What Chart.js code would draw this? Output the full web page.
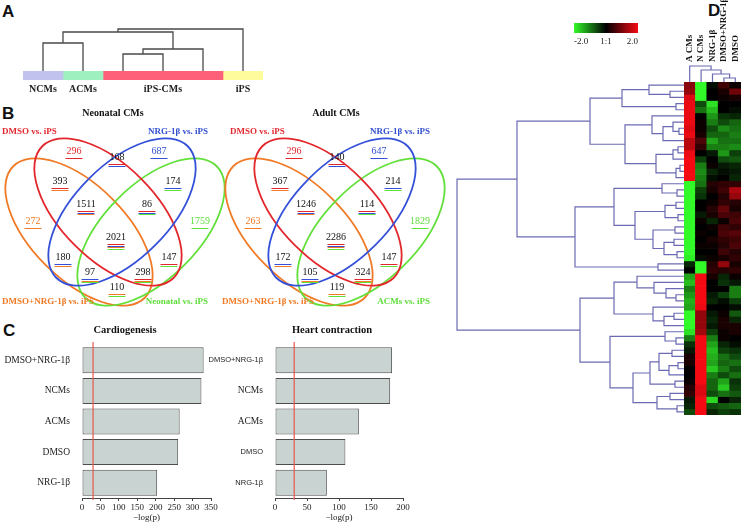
<!DOCTYPE html>
<html>
<head>
<meta charset="utf-8">
<script src="https://cdn.jsdelivr.net/npm/chart.js@4.4.1/dist/chart.umd.min.js"></script>
<style>
html, body { margin: 0; padding: 0; background: #fff; }
#fig { position: relative; width: 741px; height: 527px; overflow: hidden; background: #fff; }
#fig canvas { position: absolute; }
.tag { position: absolute; font: bold 17px "Liberation Sans", Arial, sans-serif; line-height: 1; color: #111; }
</style>
</head>
<body>
<div id="fig">
	<div class="tag" style="left:2px;top:3px">A</div>
	<div class="tag" style="left:2px;top:105px">B</div>
	<div class="tag" style="left:3px;top:322px">C</div>
	<div class="tag" style="left:708px;top:2px">D</div>
</div>
<script>
// ---- panel A: sample clustering
const sampleGroups = ['NCMs', 'ACMs', 'iPS-CMs', 'iPS'];
const groupSizes = [1, 1, 3, 1];
const groupColors = ['#c2c2ef', '#9ef0bf', '#ff6079', '#fdfb9c'];
// [height, left, right], leaves are sample indexes
const sampleTree = [42, [39, [28, 0, 1], [22, [17, 2, 3], 4]], 5];

// ---- panel B: venn counts
const vennKeys = ['R', 'B', 'O', 'G'];
const vennNamesNeonatal = ['DMSO vs. iPS', 'NRG-1β vs. iPS', 'DMSO+NRG-1β vs. iPS', 'Neonatal vs. iPS'];
const vennNamesAdult = ['DMSO vs. iPS', 'NRG-1β vs. iPS', 'DMSO+NRG-1β vs. iPS', 'ACMs vs. iPS'];
const vennRegions = ['R', 'B', 'RB', 'RO', 'BG', 'RBO', 'RBG', 'O', 'G', 'RBOG', 'BO', 'RG', 'BOG', 'ROG', 'OG'];
const neonatalCounts = [296, 687, 168, 393, 174, 1511, 86, 272, 1759, 2021, 180, 147, 97, 298, 110];
const adultCounts = [296, 647, 140, 367, 214, 1246, 114, 263, 1829, 2286, 172, 147, 105, 324, 119];

// ---- panel C: enrichment
const cCategories = ['DMSO+NRG-1β', 'NCMs', 'ACMs', 'DMSO', 'NRG-1β'];
const cardiogenesis = [330, 324, 265, 261, 204];
const heartContraction = [183, 180, 131, 110, 81];
const pThreshold = 30;

// ---- panel D: heatmap
const heatColumns = ['A CMs', 'N CMs', 'NRG-1β', 'DMSO+NRG-1β', 'DMSO'];
const aCMs = [1.1, 1.2, 1.8, 1.9, 1.9, 1.9, 1.9, 1.8, 1.9, 1.5, 1.5, 1.9, 2, 2, 2, 2,
	-2, -2, -2, -2, -2, -2, -2, -2, -2, -2, -2, -2, -1.9, -0.3, 0,
	-1.3, -1.5, -1.0, -1.2, -1.4, -1.3, -2, -2, -2,
	-1.8, -1.0, -0.4, -0.2, 0.2, 0.2, 0, 0, 0.1, 0.3, 0.4, -0.2, -0.3, -0.6];
const nCMs = [-2, -2, -2, -0.6, -0.9, 0, 0.1, 0.1, 0.2, 0.6, 0.4, 0, -0.5, -1.0, -1.1, -1.0,
	-0.9, -0.5, -0.4, 0, 0, -0.2, 0.1, 0, 0.1, 0, 0.1, 0, -0.1, -2, -2,
	2, 2, 2, 2, 2, 1.9, 1.2, 1.2, 1.2,
	1.3, 2, 2, 2, 2, 2, 2, 2, 2, 1.8, 1.8, 2, 2, 2];
const nrg = [-0.1, 0, 0, -1.8, -1.5, -1.2, -1.0, -0.6, -0.8, -1.3, -1.0, -0.2, 0, 0.1, -0.3, -0.1,
	0.3, 0.2, 0, 0.1, 0.3, 0.2, -0.3, 0.1, 0, 0.2, 0.1, 0, 0.1, 0.3, 0.4,
	0.2, 0, 0, -0.2, -0.3, 0, -0.2, -0.3, -0.2,
	-0.5, -1.0, -1.3, -1.5, -1.4, -1.3, -1.6, -1.0, -0.8, -0.8, -0.6, -1.7, -0.6, -0.3];
const dmsoNrg = [0.5, 0.2, 0.1, 0, 0, -0.4, -0.6, -1.1, -0.8, -0.9, -1.0, -1.2, -0.6, -0.2, -0.1, 0,
	0.4, 0.5, 0.3, 0.4, 0.8, 0.6, 0.1, 0.5, 0.6, 0.4, 0.3, 0.5, 0.2, 1.2, 0.3,
	-0.3, -0.4, 0, -0.5, -0.1, 0, 0.1, 0.2, 0.2,
	0.1, 0.1, -0.3, -0.5, -0.9, -0.8, -1.0, -0.6, -1.3, -1.6, -0.9, 0, -0.7, -0.5];
const dmso = [0.1, 0.9, 0.2, 0, -0.1, -0.3, -0.8, -0.9, -1.0, -0.9, -1.1, -0.5, -0.7, -0.3, -0.2, -0.3,
	0.4, 1.4, 1.2, 0.3, 0.2, 0.5, 0.6, 0.4, 0.7, 0.5, 0.6, 0.3, 0.4, 0.2, 0.4,
	0.1, -0.2, -1.0, -1.0, -0.5, -0.1, -0.7, -0.3, 0.2,
	0.2, 0, -0.1, -0.4, -0.6, -0.9, -0.6, -0.9, -0.4, -0.5, -0.7, -0.3, -0.8, -0.4];
const colTree = [16, 0, [12, 1, [8, 2, [4, 3, 4]]]];
const rowTree = [227,
	[167,
		[94,
			[62, [35, 0, [14, 1, 2]], [8, 3, 4]],
			[59, [32, 5, [21, [11, 6, [5, 7, 8]], 9]], [28, [11, [6, 10, 11], 12], [8, [4, 13, 14], 15]]]],
		[109,
			[70, [22, 16, [7, 17, 18]], [49, [19, [8, 19, 20], [6, 21, 22]], [31, [9, 23, 24], [20, [10, 25, 26], [7, 27, 28]]]]],
			[26, 29, 30]]],
	[104,
		[70, [47, 31, [30, 32, [18, 33, [8, 34, 35]]]], [31, 36, [20, [10, 37, 38], 39]]],
		[74, [19, 40, [8, 41, 42]], [51, [34, [25, [12, 43, 44], [15, [6, 45, 46], 47]], [9, 48, 49]], [27, [14, 50, 51], [7, 52, 53]]]]]];
const legendTicks = [-2, 0, 2];
const legendLabels = ['-2.0', '1:1', '2.0'];

// ---------------------------------------------------------------
const serif = '"Liberation Serif", "Times New Roman", serif';
const sans = '"Liberation Sans", Arial, sans-serif';
Chart.defaults.font.family = serif;
Chart.defaults.color = '#111';
Chart.defaults.responsive = false;
Chart.defaults.animation = false;
Chart.defaults.devicePixelRatio = 1;
Chart.defaults.events = [];
Chart.defaults.plugins.legend.display = false;
Chart.defaults.plugins.tooltip.enabled = false;

const fig = document.getElementById('fig');
function mk(x, y, w, h) {
	const c = document.createElement('canvas');
	c.width = w; c.height = h;
	c.style.left = x + 'px'; c.style.top = y + 'px';
	c.style.width = w + 'px'; c.style.height = h + 'px';
	fig.appendChild(c);
	return c;
}

function treeSegments(node, segs) {
	if (typeof node === 'number') return { pos: node + 0.5, h: 0 };
	const a = treeSegments(node[1], segs), b = treeSegments(node[2], segs);
	segs.push([[a.pos, a.h], [a.pos, node[0]], [b.pos, node[0]], [b.pos, b.h]]);
	return { pos: (a.pos + b.pos) / 2, h: node[0] };
}

function dendrogram(canvas, tree, o) {
	const segs = [];
	treeSegments(tree, segs);
	const datasets = segs.map(seg => ({
		data: seg.map(([p, h]) => o.horizontal ? { x: h, y: p } : { x: p, y: h }),
		showLine: true, pointRadius: 0, borderColor: o.color, borderWidth: o.width, clip: false, tension: 0
	}));
	return new Chart(canvas, {
		type: 'scatter',
		data: { datasets },
		options: {
			layout: { padding: 0 },
			scales: {
				x: { display: false, min: o.x[0], max: o.x[1], reverse: !!o.reverseX },
				y: { display: false, min: o.y[0], max: o.y[1], reverse: !!o.reverseY }
			}
		}
	});
}

// ---- A
dendrogram(mk(23, 25, 240, 46), sampleTree, { x: [0, 6], y: [0, 46], color: '#4a4a4a', width: 1.3 });

const segmentLabels = {
	id: 'segmentLabels',
	afterDatasetsDraw(chart) {
		const { ctx } = chart;
		ctx.save();
		ctx.font = 'bold 10px ' + serif;
		ctx.fillStyle = '#222';
		ctx.textAlign = 'center';
		ctx.textBaseline = 'middle';
		chart.data.datasets.forEach((ds, i) => {
			const bar = chart.getDatasetMeta(i).data[0];
			ctx.fillText(ds.label, (bar.x + bar.base) / 2, bar.y + bar.height / 2 + 9);
		});
		ctx.restore();
	}
};

new Chart(mk(23, 71, 240, 26), {
	type: 'bar',
	data: {
		labels: [''],
		datasets: sampleGroups.map((g, i) => ({
			label: g, data: [groupSizes[i]], backgroundColor: groupColors[i],
			borderWidth: 0, barPercentage: 1, categoryPercentage: 1
		}))
	},
	options: {
		indexAxis: 'y',
		layout: { padding: { bottom: 17 } },
		scales: {
			x: { display: false, stacked: true, min: 0, max: 6 },
			y: { display: false, stacked: true }
		}
	},
	plugins: [segmentLabels]
});

// ---- B
const vennColors = ['#e2262b', '#3450d8', '#f07a26', '#62e03a'];
const vennTextColors = ['#e22a30', '#3350d0', '#f07a26', '#5ede3a'];
// ellipse centre x, y and rotation (deg), in diagram units
const vennEllipses = [[108, 112, 45], [122, 112, -45], [79, 132, 45], [151, 132, -45]];
const vennRadii = [93, 47];
const vennLabelPos = [[74, 51], [159, 51], [117, 57], [60, 81], [173, 81], [86, 104], [147, 104],
	[33, 121], [200, 121], [116, 137], [63, 157], [169, 157], [90, 172], [143, 172], [117, 187]];

const vennPlugin = {
	id: 'venn',
	afterDatasetsDraw(chart, args, opts) {
		const { ctx, scales: { x, y } } = chart;
		const kx = Math.abs(x.getPixelForValue(1) - x.getPixelForValue(0));
		const ky = Math.abs(y.getPixelForValue(1) - y.getPixelForValue(0));
		ctx.save();
		[2, 3, 0, 1].forEach(i => {
			const e = vennEllipses[i];
			ctx.beginPath();
			ctx.ellipse(x.getPixelForValue(e[0]), y.getPixelForValue(e[1]), vennRadii[0] * kx, vennRadii[1] * ky,
				e[2] * Math.PI / 180, 0, Math.PI * 2);
			ctx.strokeStyle = vennColors[i];
			ctx.lineWidth = 1.8;
			ctx.stroke();
		});

		ctx.textAlign = 'center';
		ctx.textBaseline = 'middle';
		chart.getDatasetMeta(0).data.forEach((pt, i) => {
			const sets = vennRegions[i].split('').map(k => vennKeys.indexOf(k));
			ctx.font = '10px ' + serif;
			ctx.fillStyle = sets.length === 1 ? vennTextColors[sets[0]] : '#111';
			ctx.fillText(opts.counts[i], pt.x, pt.y);
			ctx.lineWidth = 1;
			sets.forEach((s, j) => {
				const ly = Math.round(pt.y + 7 + j * 1.7) + 0.5;
				ctx.beginPath();
				ctx.moveTo(pt.x - 8.5, ly);
				ctx.lineTo(pt.x + 8.5, ly);
				ctx.strokeStyle = vennColors[s];
				ctx.stroke();
			});
		});

		ctx.font = 'bold 9px ' + serif;
		opts.names.forEach((n, i) => {
			const p = opts.namePos[i];
			ctx.textAlign = p[2];
			ctx.fillStyle = vennTextColors[i];
			ctx.fillText(n, x.getPixelForValue(p[0]), y.getPixelForValue(p[1]));
		});

		ctx.font = 'bold 10px ' + serif;
		ctx.textAlign = 'center';
		ctx.fillStyle = '#111';
		ctx.fillText(opts.title, x.getPixelForValue(opts.titlePos[0]), y.getPixelForValue(opts.titlePos[1]));
		ctx.restore();
	}
};

function venn(canvas, counts, names, title, titlePos, namePos) {
	return new Chart(canvas, {
		type: 'scatter',
		data: { datasets: [{ data: vennLabelPos.map(([x, y]) => ({ x, y })), pointRadius: 0 }] },
		options: {
			layout: { padding: 0 },
			plugins: { venn: { counts, names, title, titlePos, namePos } },
			scales: {
				x: { display: false, min: 0, max: 230 },
				y: { display: false, min: 0, max: 220, reverse: true }
			}
		},
		plugins: [vennPlugin]
	});
}

venn(mk(0, 100, 230, 220), neonatalCounts, vennNamesNeonatal, 'Neonatal CMs', [113, 13],
	[[2, 32, 'left'], [208, 32, 'right'], [2, 202, 'left'], [208, 202, 'right']]);
venn(mk(220, 100, 230, 220), adultCounts, vennNamesAdult, 'Adult CMs', [116, 13],
	[[10, 32, 'left'], [210, 32, 'right'], [2, 202, 'left'], [210, 202, 'right']]);

// ---- C
const thresholdLine = {
	id: 'thresholdLine',
	afterDatasetsDraw(chart, args, opts) {
		const { ctx, chartArea, scales: { x } } = chart;
		const px = x.getPixelForValue(opts.value);
		ctx.save();
		ctx.strokeStyle = '#e8574f';
		ctx.lineWidth = 1.2;
		ctx.beginPath();
		ctx.moveTo(px, chartArea.top - 3);
		ctx.lineTo(px, chartArea.bottom + 2);
		ctx.stroke();
		ctx.restore();
	}
};

// title placed at a fixed spot of the canvas, not centred on the plot area
const panelTitle = {
	id: 'panelTitle',
	afterDraw(chart, args, opts) {
		const { ctx } = chart;
		ctx.save();
		ctx.font = 'bold 10.5px ' + serif;
		ctx.fillStyle = '#111';
		ctx.textAlign = 'center';
		ctx.textBaseline = 'middle';
		ctx.fillText(opts.text, opts.x, opts.y);
		ctx.restore();
	}
};

function barPanel(canvas, values, title, titleX, max, yWidth, padRight, tickFont) {
	return new Chart(canvas, {
		type: 'bar',
		data: {
			labels: cCategories,
			datasets: [{
				data: values, backgroundColor: '#c9d3d1', borderColor: '#4d4d4d', borderWidth: 1,
				borderSkipped: false, barPercentage: 0.85, categoryPercentage: 1
			}]
		},
		options: {
			indexAxis: 'y',
			layout: { padding: { top: 28, right: padRight } },
			plugins: {
				panelTitle: { text: title, x: titleX, y: 13 },
				thresholdLine: { value: pThreshold }
			},
			scales: {
				x: {
					min: 0, max,
					ticks: { stepSize: 50, maxRotation: 0, autoSkip: false, font: { size: 9 }, padding: 1, color: '#222' },
					grid: { drawOnChartArea: false, tickLength: 3, color: '#444' },
					border: { color: '#444' },
					title: { display: true, text: '−log(p)', font: { size: 9 }, color: '#222', padding: { top: 0, bottom: 4 } },
					afterFit(s) { s.height = 29; }
				},
				y: {
					grid: { display: false },
					border: { display: false },
					ticks: { color: '#222', padding: 4, font: tickFont },
					afterFit(s) { s.width = yWidth; }
				}
			}
		},
		plugins: [thresholdLine, panelTitle]
	});
}

barPanel(mk(0, 317, 250, 210), cardiogenesis, 'Cardiogenesis', 125, 350, 82, 39,
	() => ({ size: 9.5, family: serif }));
barPanel(mk(193, 317, 266, 210), heartContraction, 'Heart contraction', 139, 200, 82, 56,
	(ctx) => [0, 3, 4].includes(ctx.index) ? { size: 7.5, family: sans } : { size: 9.5, family: serif });

// ---- D
function heatColor(v) {
	const t = Math.min(Math.abs(v) / 2, 1);
	return v >= 0
		? `rgb(${Math.round(245 * t)},${Math.round(10 * t)},${Math.round(20 * t)})`
		: `rgb(${Math.round(50 * t)},${Math.round(250 * t)},${Math.round(40 * t)})`;
}

const columnLabels = {
	id: 'columnLabels',
	afterDraw(chart, args, opts) {
		const { ctx, chartArea, scales: { x } } = chart;
		ctx.save();
		ctx.font = 'bold 9px ' + serif;
		ctx.fillStyle = '#111';
		ctx.textAlign = 'left';
		ctx.textBaseline = 'middle';
		chart.data.labels.forEach((label, i) => {
			ctx.save();
			ctx.translate(x.getPixelForValue(i), chartArea.top - opts.gap);
			ctx.rotate(-Math.PI / 2);
			ctx.fillText(label, 0, 0);
			ctx.restore();
		});
		ctx.restore();
	}
};

const heatValues = [aCMs, nCMs, nrg, dmsoNrg, dmso];
new Chart(mk(684, 0, 57, 415), {
	type: 'bar',
	data: {
		labels: heatColumns,
		datasets: aCMs.map((_, r) => ({
			data: heatColumns.map(() => [r, r + 1]),
			backgroundColor: heatValues.map(col => heatColor(col[r])),
			borderWidth: 0, grouped: false, barPercentage: 1, categoryPercentage: 1
		}))
	},
	options: {
		layout: { padding: { top: 82 } },
		plugins: { columnLabels: { gap: 20 } },
		scales: {
			x: { display: false },
			y: { display: false, min: 0, max: aCMs.length, reverse: true }
		}
	},
	plugins: [columnLabels]
});

dendrogram(mk(684, 60, 57, 22), colTree, { x: [0, 5], y: [0, 22], color: '#6b6bb3', width: 1.2 });
dendrogram(mk(441, 82, 243, 333), rowTree, {
	horizontal: true, x: [0, 243], y: [0, aCMs.length], reverseX: true, reverseY: true, color: '#6b6bb3', width: 1.2
});

// colour key
new Chart(mk(570, 18, 72, 30), {
	type: 'bar',
	data: {
		labels: [''],
		datasets: [{
			data: [[legendTicks[0], legendTicks[legendTicks.length - 1]]],
			borderWidth: 0, barPercentage: 1, categoryPercentage: 1,
			backgroundColor: function(context) {
				const { ctx, chartArea } = context.chart;
				if (!chartArea) return;
				const g = ctx.createLinearGradient(chartArea.left, 0, chartArea.right, 0);
				g.addColorStop(0, heatColor(-2));
				g.addColorStop(0.5, '#000');
				g.addColorStop(1, heatColor(2));
				return g;
			}
		}]
	},
	options: {
		indexAxis: 'y',
		layout: { padding: { left: 4, right: 4, top: 5 } },
		scales: {
			x: {
				min: -2, max: 2,
				grid: { display: false, drawTicks: false },
				border: { display: false },
				afterBuildTicks(s) { s.ticks = legendTicks.map(v => ({ value: v })); },
				ticks: { align: 'inner', padding: 3, color: '#222', font: { size: 9 }, callback: (v, i) => legendLabels[i] },
				afterFit(s) { s.height = 15; }
			},
			y: { display: false }
		}
	}
});
</script>
</body>
</html>
